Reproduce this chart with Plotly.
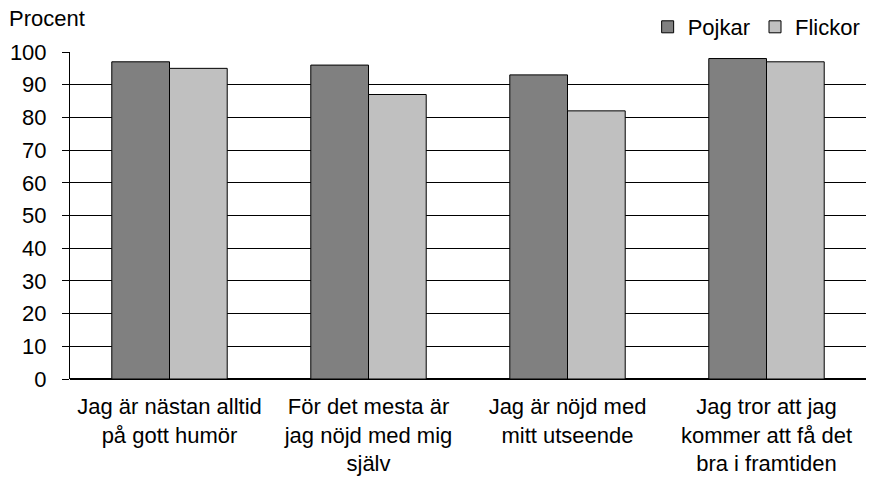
import plotly.graph_objects as go

categories = [
    "Jag är nästan alltid<br>på gott humör",
    "För det mesta är<br>jag nöjd med mig<br>själv",
    "Jag är nöjd med<br>mitt utseende",
    "Jag tror att jag<br>kommer att få det<br>bra i framtiden",
]
pojkar = [97, 96, 93, 98]
flickor = [95, 87, 82, 97]
y_ticks = list(range(0, 101, 10))

font = dict(family="Liberation Sans, Arial, sans-serif", size=22, color="#000000")

fig = go.Figure()
fig.add_trace(go.Bar(name="Pojkar", x=categories, y=pojkar,
                     marker=dict(color="#808080", line=dict(color="#000000", width=1))))
fig.add_trace(go.Bar(name="Flickor", x=categories, y=flickor,
                     marker=dict(color="#C0C0C0", line=dict(color="#000000", width=1))))

fig.update_layout(
    width=870, height=479,
    margin=dict(l=70, r=4, t=52, b=100, autoexpand=False),
    paper_bgcolor="white", plot_bgcolor="white",
    font=font,
    barmode="group", bargap=0.42, bargroupgap=0,
    showlegend=True,
    legend=dict(orientation="h", xref="container", x=0.995, xanchor="right",
                yref="container", y=1 - 27 / 479, yanchor="middle",
                font=font, itemwidth=30, traceorder="normal",
                bgcolor="rgba(0,0,0,0)"),
    # axis title "Procent" sits above the value axis, near the top-left corner
    annotations=[dict(text="Procent", xref="paper", yref="paper", x=-0.079,
                      y=1 + (52 - 18) / 327, yanchor="middle",
                      xanchor="left", showarrow=False, font=font)],
)
fig.update_xaxes(showgrid=False, showline=False, ticks="", tickfont=font,
                 ticklabelstandoff=12)
fig.update_yaxes(range=[0, 100], tickvals=y_ticks, showgrid=True, gridcolor="#000000",
                 gridwidth=1, showline=True, linecolor="#000000", linewidth=1,
                 ticks="outside", ticklen=7, tickcolor="#000000", tickfont=font,
                 ticklabelstandoff=11,
                 zeroline=True, zerolinecolor="#000000")

fig.write_html("out.html")
